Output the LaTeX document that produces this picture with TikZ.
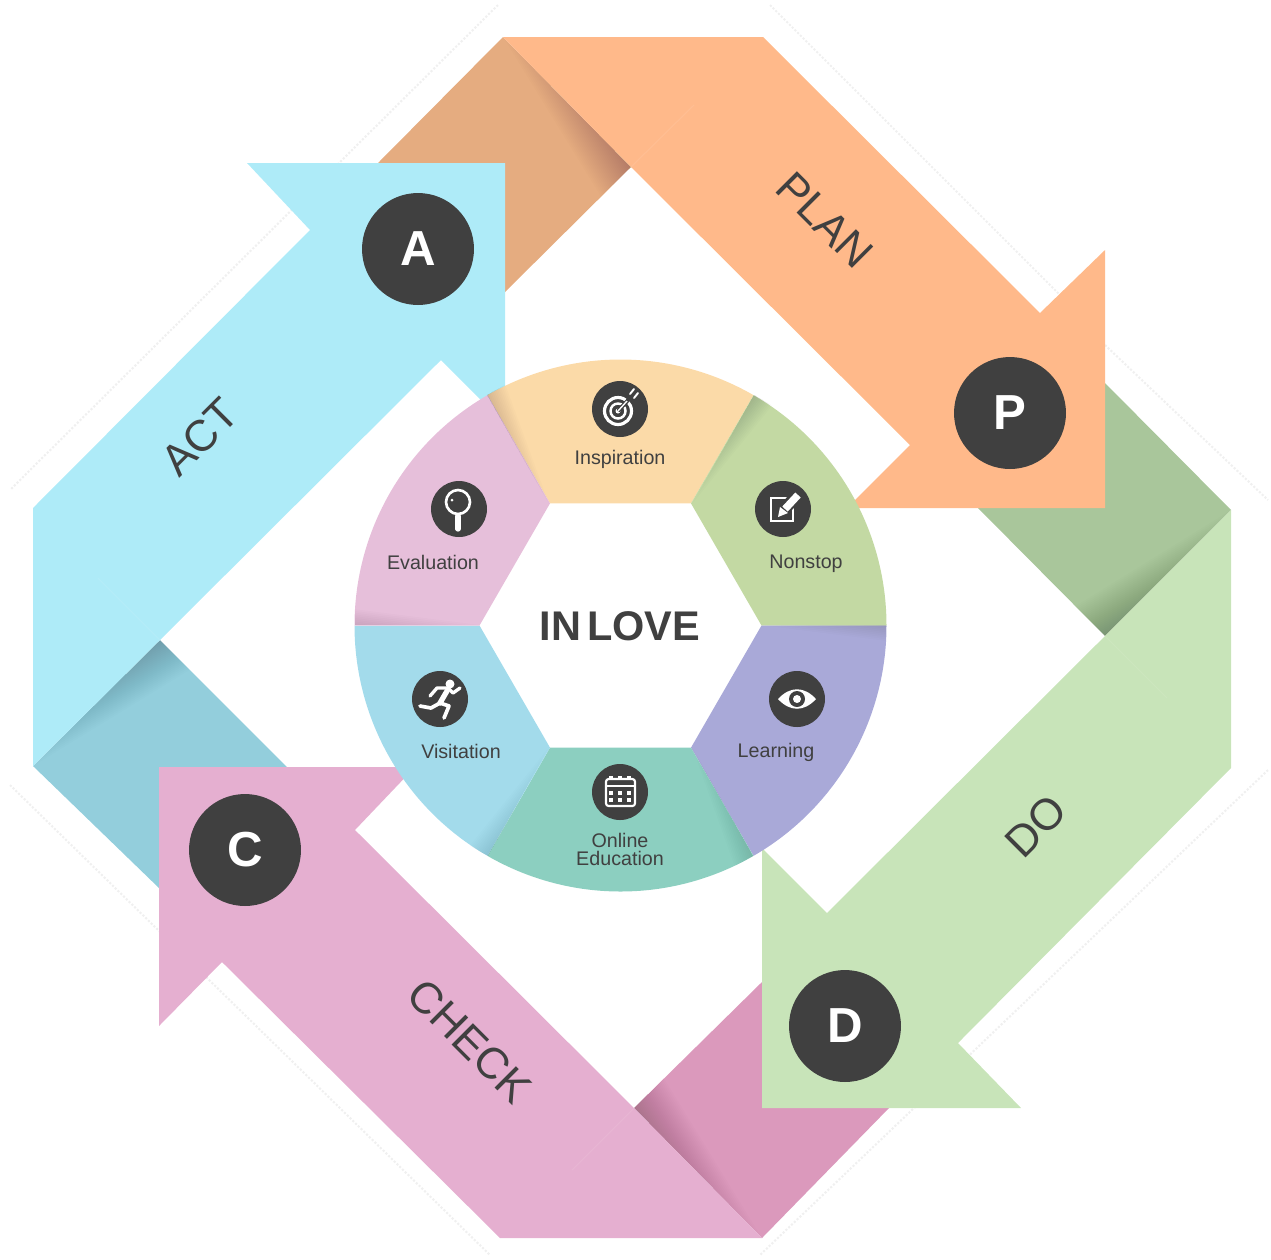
\documentclass[tikz,border=0pt]{standalone}
\usepackage{xcolor}
\usepackage{fontspec}
\setmainfont{Liberation Sans}
\usepackage{tikz}
\usetikzlibrary{calc,positioning}
\definecolor{orangemain}{HTML}{FFB98A}
\definecolor{orangefold}{HTML}{E5AC80}
\definecolor{greenmain}{HTML}{C8E4B9}
\definecolor{greenfold}{HTML}{A9C69B}
\definecolor{pinkmain}{HTML}{E5AFD0}
\definecolor{pinkfold}{HTML}{DB99BC}
\definecolor{bluemain}{HTML}{AEEBF8}
\definecolor{bluefold}{HTML}{93CEDC}
\definecolor{ringinspire}{HTML}{FBDAA8}
\definecolor{ringnonstop}{HTML}{C3D9A3}
\definecolor{ringlearn}{HTML}{A9A9D8}
\definecolor{ringonline}{HTML}{8CCFC0}
\definecolor{ringvisit}{HTML}{A3DBEB}
\definecolor{ringeval}{HTML}{E6BFDA}
\definecolor{badgegray}{HTML}{404040}
\tikzset{badge node/.style={circle,fill=badgegray,minimum size=2.24cm,inner sep=0pt,text=white,font=\bfseries\fontsize{28}{30}\selectfont},
         icon node/.style={circle,fill=badgegray,minimum size=1.12cm,inner sep=0pt},
         ring label/.style={inner sep=0pt,align=center,text=badgegray,font=\fontsize{11.2}{10.2}\selectfont},
         band label/.style={inner sep=0pt,text=badgegray,font=\fontsize{25}{28}\selectfont},
         icon line/.style={draw=white,line width=1.5pt,line cap=round,line join=round},
         faint line/.style={draw=black!6,densely dotted,line width=1.2pt},
         seam line/.style={draw=white,opacity=.08,line width=.6pt},
            }
\newcommand{\foldshade}[4]{\foreach \w in {1,2,...,#3} {\fill[black,opacity=#4] ($#2!{\w/#3}!#1$) -- #2 -- ($#2!\w pt!90:#1$) -- cycle;}}

\begin{document}
\begin{tikzpicture}[x=.02cm,y=-.02cm]
    \useasboundingbox (0,0) rectangle (1271,1259);

    % faint traces around the octagon
    \path[faint line] (498,5) -- (10,490);
    \path[faint line] (770,5) -- (1060,295);
    \path[faint line] (1105,345) -- (1268,500);
    \path[faint line] (1268,770) -- (760,1255);
    \path[faint line] (10,785) -- (490,1255);

    % folded parts
    \coordinate (ot) at (503,37);
    \coordinate (ob) at (631,167);
    \coordinate (gt) at (1231,510);
    \coordinate (gb) at (1105,636);
    \coordinate (pt) at (762,1238);
    \coordinate (pb) at (634,1108);
    \coordinate (bt) at (33,766);
    \coordinate (bb) at (160,640);

    \fill[orangefold] (ot) -- (ob) -- (505,292) -- (505,163) -- (378,163) -- cycle;
    \fill[greenfold] (gt) -- (gb) -- (978,508) -- (1105,508) -- (1105,383) -- cycle;
    \fill[pinkfold] (pt) -- (pb) -- (762,982) -- (762,1108) -- (889,1108) -- cycle;
    \fill[bluefold] (bt) -- (bb) -- (287,767) -- (159,767) -- (159,888) -- cycle;

    \foldshade{(ot)}{(ob)}{24}{.006}
    \foldshade{(gt)}{(gb)}{24}{.007}
    \foldshade{(pt)}{(pb)}{24}{.007}
    \foldshade{(bt)}{(bb)}{24}{.007}

    % arrows
    \fill[orangemain] (ot) -- (763,37) -- (1040,313) -- (1105,250) -- (1105,508) -- (847,508) -- (910,445) -- (ob) -- cycle;
    \fill[greenmain] (gt) -- (1231,768) -- (958,1043) -- (1021,1108) -- (762,1108) -- (762,848) -- (827,913) -- (gb) -- cycle;
    \fill[pinkmain] (pt) -- (500,1238) -- (222,962) -- (159,1026) -- (159,767) -- (415,767) -- (355,830) -- (pb) -- cycle;
    \fill[bluemain] (33,508) -- (310,230) -- (247,163) -- (505,163) -- (505,424) -- (441,360) -- (bb) -- (bt) -- cycle;

    \path[seam line] (ob) -- (694,105);
    \path[seam line] (gb) -- (1167,698);
    \path[seam line] (pb) -- (572,1170);
    \path[seam line] (bb) -- (98,578);

    % ring
    \begin{scope}[shift={(620.5,625.5)}]
        \foreach \a/\b/\c in {240/300/ringinspire,300/360/ringnonstop,0/60/ringlearn,60/120/ringonline,120/180/ringvisit,180/240/ringeval}
            \fill[\c] (\a:141) -- (\a:266) arc (\a:\b:266) -- (\b:141) -- cycle;
    \end{scope}

    \coordinate (ia) at (549,504);
    \coordinate (ib) at (487,395);
    \coordinate (na) at (692,504);
    \coordinate (nb) at (754,395);
    \coordinate (ea) at (480,625);
    \coordinate (eb) at (355,625);
    \coordinate (la) at (761,625);
    \coordinate (lb) at (886,625);
    \coordinate (ra) at (692,747);
    \coordinate (rb) at (753,856);
    \coordinate (va) at (549,747);
    \coordinate (vb) at (488,856);
    \foldshade{(ia)}{(ib)}{12}{.01}
    \foldshade{(na)}{(nb)}{12}{.01}
    \foldshade{(ea)}{(eb)}{9}{.012}
    \foldshade{(la)}{(lb)}{9}{.012}
    \foldshade{(ra)}{(rb)}{12}{.008}
    \foldshade{(va)}{(vb)}{12}{.008}

    % text
    \node[inner sep=0pt,text=badgegray,font=\bfseries\fontsize{23.6}{28}\selectfont] (center) at (620,626) {IN\hspace{.14em}LOVE};
    \node[band label,rotate=-45] (plan) at (825,220) {PLAN};
    \node[band label,rotate=45] (act) at (200,437) {ACT};
    \node[band label,rotate=45] (do) at (1036,826) {DO};
    \node[band label,rotate=-45] (check) at (470,1041) {CHECK};

    \node[badge node] (A) at (418,249) {A};
    \node[badge node] (P) at (1010,413) {P};
    \node[badge node] (C) at (245,850) {C};
    \node[badge node] (D) at (845,1026) {D};

    \node[icon node] (target) at (620,409) {};
    \node[icon node] (pencil) at (783,509) {};
    \node[icon node] (eye) at (797,699) {};
    \node[icon node] (calendar) at (620,792) {};
    \node[icon node] (runner) at (440,699) {};
    \node[icon node] (glass) at (459,509) {};

    \node[ring label] (inspiration) at (620,459) {Inspiration};
    \node[ring label] (nonstop) at (806,563.5) {Nonstop};
    \node[ring label] (learning) at (776,752) {Learning};
    \node[ring label] (online) at (620,849) {Online\\Education};
    \node[ring label] (visitation) at (461,751) {Visitation};
    \node[ring label] (evaluation) at (433,562) {Evaluation};

    % target icon
    \draw[white,line width=1.8pt] (618,411) circle (13.5);
    \draw[white,line width=1.4pt] (618,411) circle (7.5);
    \fill[white] (618,411) circle (2.5);
    \draw[badgegray,line width=2.2pt] (618,411) -- (630,398);
    \draw[white,line width=.8pt] (618,411) -- (627,401);
    \draw[icon line,line width=1.1pt] (630,394) -- (634,389);
    \draw[icon line,line width=1.1pt] (634,398) -- (638,393);

    % pencil icon
    \draw[white,line width=1.6pt] (771,498) rectangle (793,521);
    \draw[badgegray,line width=7pt] (781,513) -- (799,493);
    \draw[icon line,line width=4.2pt,line cap=butt] (785,509) -- (798,495);
    \fill[white] (778,517) -- (780,507) -- (788,513) -- cycle;

    % eye icon
    \fill[white] (778,699) .. controls (790,686) and (804,686) .. (816,699) .. controls (804,712) and (790,712) .. (778,699) -- cycle;
    \fill[badgegray] (797,699) circle (8);
    \fill[white] (797,699) circle (4);

    % calendar icon
    \draw[white,line width=1.2pt,rounded corners=1.5pt] (606,779) rectangle (635,806);
    \draw[white,line width=1.2pt] (606,786) -- (635,786);
    \foreach \x in {611,620,629} {
        \fill[white] (\x-2,776) rectangle (\x+2,780);
        \fill[white] (\x-2,791) rectangle (\x+2,795);
        \fill[white] (\x-2,798) rectangle (\x+2,802);
    }

    % runner icon
    \fill[white] (450,684) circle (4.5);
    \draw[icon line,line width=3pt] (447,691) -- (440,703);
    \draw[icon line,line width=1.9pt] (430,696) -- (437,688) -- (448,688) -- (453,693) -- (460,688);
    \draw[icon line,line width=2.1pt] (440,703) -- (449,706) -- (444,718);
    \draw[icon line,line width=2.1pt] (440,703) -- (431,708) -- (420,706);

    % magnifier icon
    \draw[white,line width=1.5pt] (458,502) circle (12);
    \fill[white] (452,500) circle (1.5);
    \draw[icon line,line width=3pt] (458,516) -- (458,529);

\end{tikzpicture}
\end{document}
